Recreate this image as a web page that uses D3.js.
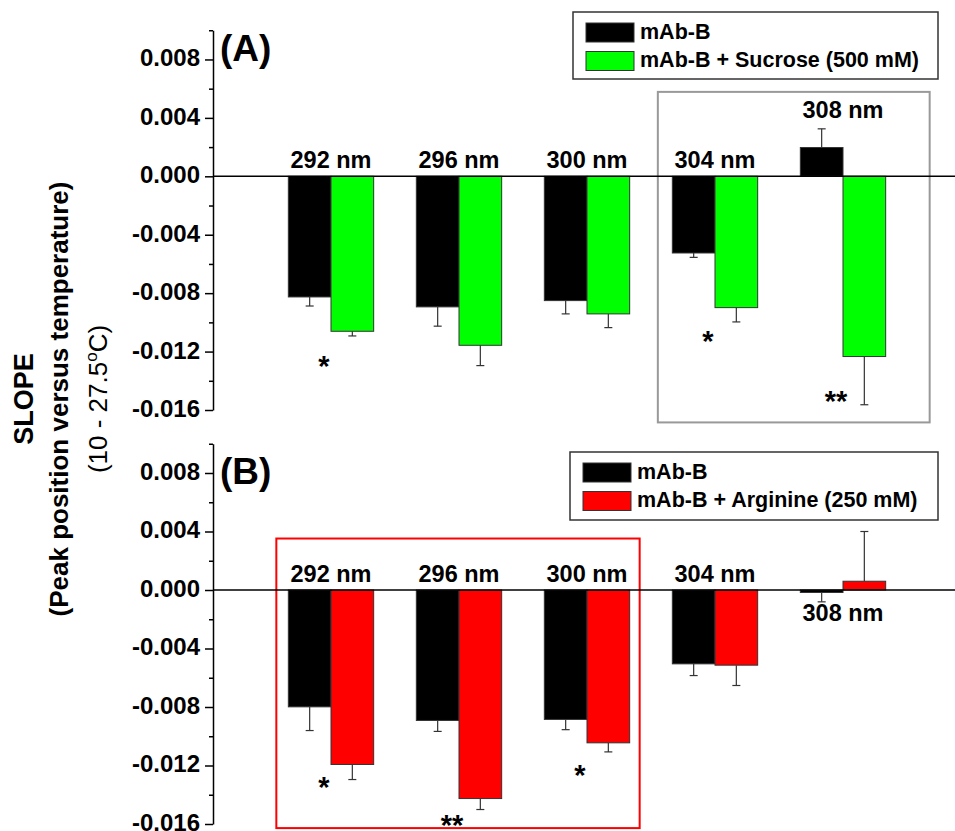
<!DOCTYPE html>
<html>
<head>
<meta charset="utf-8">
<script src="https://cdn.jsdelivr.net/npm/d3@7"></script>
<style>
  body { margin: 0; background: #fff; }
  svg text { font-family: "Liberation Sans", Arial, sans-serif; }
</style>
</head>
<body>
<div id="chart"></div>
<script>
const W = 955;
const H = 831;

const categories = ["292 nm", "296 nm", "300 nm", "304 nm", "308 nm"];
const yTicks = [-0.016, -0.012, -0.008, -0.004, 0, 0.004, 0.008];
const yMinorTicks = [-0.014, -0.01, -0.006, -0.002, 0.002, 0.006, 0.01];

// panel A: sucrose
const sucroseControl = [-0.00826, -0.00894, -0.00851, -0.00525, 0.00197];
const sucroseControlErr = [0.00062, 0.00132, 0.00091, 0.0003, 0.00128];
const sucroseValues = [-0.01061, -0.01157, -0.00942, -0.00899, -0.01234];
const sucroseErr = [0.00032, 0.00139, 0.00094, 0.00098, 0.0033];
const sucroseStars = ["*", "", "", "*", "**"];
const sucroseStarAt = [-0.01255, null, null, -0.01084, -0.01494];
const sucroseLabelSide = ["zero", "zero", "zero", "zero", "above"];
const sucroseLegend = ["mAb-B", "mAb-B + Sucrose (500 mM)"];

// panel B: arginine
const arginineControl = [-0.00799, -0.00892, -0.00885, -0.00505, -0.00017];
const arginineControlErr = [0.00162, 0.00075, 0.0007, 0.0008, 0.00064];
const arginineValues = [-0.01193, -0.01426, -0.01045, -0.00514, 0.0006];
const arginineErr = [0.00103, 0.00075, 0.00062, 0.00139, 0.0034];
const arginineStars = ["*", "**", "*", "", ""];
const arginineStarAt = [-0.01307, -0.01569, -0.01227, null, null];
const arginineLabelSide = ["zero", "zero", "zero", "zero", "below"];
const arginineLegend = ["mAb-B", "mAb-B + Arginine (250 mM)"];

const svg = d3.select("#chart").append("svg").attr("width", W).attr("height", H);

const x = d3.scaleBand().domain(categories).range([267, 907]).paddingInner(1 / 3).paddingOuter(1 / 6);
const xs = d3.scaleBand().domain(["ctrl", "treat"]).range([0, x.bandwidth()]);
const axisX = 213;

function drawPanel(p) {
  const y = d3.scaleLinear().domain([-0.016, 0.01]).range([p.bottom, p.top]);
  const g = svg.append("g");

  // highlight box
  g.append("rect")
    .attr("x", x(p.box.from) + p.box.dx0)
    .attr("y", y(p.box.yTop))
    .attr("width", x(p.box.to) + x.bandwidth() + p.box.dx1 - x(p.box.from) - p.box.dx0)
    .attr("height", y(p.box.yBottom) - y(p.box.yTop))
    .attr("fill", "none")
    .attr("stroke", p.box.color)
    .attr("stroke-width", 2);

  const rows = categories.map((c, i) => ({
    cat: c, ctrl: p.ctrl[i], ctrlErr: p.ctrlErr[i], treat: p.treat[i], treatErr: p.treatErr[i],
    star: p.stars[i], starAt: p.starAt[i], side: p.side[i]
  }));
  const bars = [];
  rows.forEach((r) => {
    bars.push({ cat: r.cat, key: "ctrl", v: r.ctrl, e: r.ctrlErr, fill: "#000" });
    bars.push({ cat: r.cat, key: "treat", v: r.treat, e: r.treatErr, fill: p.color });
  });

  // error bars (one-sided, away from zero)
  const eb = g.selectAll(".err").data(bars).enter().append("g").attr("class", "err");
  const cx = (d) => x(d.cat) + xs(d.key) + xs.bandwidth() / 2;
  const tip = (d) => (d.v >= 0 ? d.v + d.e : d.v - d.e);
  eb.append("line")
    .attr("x1", cx).attr("x2", cx)
    .attr("y1", (d) => y(d.v)).attr("y2", (d) => y(tip(d)))
    .attr("stroke", "#333").attr("stroke-width", 1.2);
  eb.append("line")
    .attr("x1", (d) => cx(d) - 4).attr("x2", (d) => cx(d) + 4)
    .attr("y1", (d) => y(tip(d))).attr("y2", (d) => y(tip(d)))
    .attr("stroke", "#333").attr("stroke-width", 1.2);

  g.selectAll(".bar").data(bars).enter().append("rect")
    .attr("class", "bar")
    .attr("x", (d) => x(d.cat) + xs(d.key))
    .attr("width", xs.bandwidth())
    .attr("y", (d) => y(Math.max(0, d.v)))
    .attr("height", (d) => Math.abs(y(d.v) - y(0)))
    .attr("fill", (d) => d.fill)
    .attr("stroke", "#333")
    .attr("stroke-width", 1);

  // zero line
  g.append("line")
    .attr("x1", axisX).attr("x2", W)
    .attr("y1", y(0)).attr("y2", y(0))
    .attr("stroke", "#000").attr("stroke-width", 1.5);

  // category labels
  g.selectAll(".cat").data(rows).enter().append("text")
    .attr("class", "cat")
    .attr("x", (d) => x(d.cat) + x.bandwidth() / 2)
    .attr("y", (d) => {
      if (d.side === "above") return y(Math.max(d.ctrl + d.ctrlErr, d.treat + d.treatErr)) - 11;
      if (d.side === "below") return y(0) + 31;
      return y(0) - 8;
    })
    .attr("text-anchor", "middle")
    .attr("font-size", 23.5)
    .attr("font-weight", "bold")
    .text((d) => d.cat);

  // significance stars
  g.selectAll(".star").data(rows.filter((d) => d.star)).enter().append("text")
    .attr("class", "star")
    .attr("x", (d) => x(d.cat) + x.bandwidth() / 2 - 7)
    .attr("y", (d) => y(d.starAt) + 16)
    .attr("text-anchor", "middle")
    .attr("font-size", 29)
    .attr("font-weight", "bold")
    .text((d) => d.star);

  // y axis
  const ax = g.append("g").attr("transform", `translate(${axisX},0)`)
    .call(d3.axisLeft(y).tickValues(yTicks).tickFormat((d) => d.toFixed(3)).tickSize(8).tickSizeOuter(0).tickPadding(5));
  ax.select(".domain").attr("stroke-width", 1.5);
  ax.selectAll(".tick line").attr("stroke-width", 1.5);
  ax.selectAll("text").attr("font-size", 24).attr("font-weight", "bold").attr("fill", "#000").attr("dy", "0.27em")
    .style("font-family", "'Liberation Sans', Arial, sans-serif");
  const mx = g.append("g").attr("transform", `translate(${axisX},0)`)
    .call(d3.axisLeft(y).tickValues(yMinorTicks).tickFormat("").tickSize(4).tickSizeOuter(0));
  mx.select(".domain").remove();
  mx.selectAll(".tick line").attr("stroke-width", 1.5);

  // panel letter
  g.append("text")
    .attr("x", 220).attr("y", p.letterY)
    .attr("font-size", 37).attr("font-weight", "bold")
    .text(p.letter);

  // legend
  const L = p.legend;
  const lg = g.append("g").attr("transform", `translate(${L.x},${L.y})`);
  lg.append("rect").attr("width", L.w).attr("height", L.h)
    .attr("fill", "#fff").attr("stroke", "#333").attr("stroke-width", 1.5);
  const items = [{ label: p.legendLabels[0], fill: "#000" }, { label: p.legendLabels[1], fill: p.color }];
  items.forEach((it, i) => {
    lg.append("rect").attr("x", 13).attr("y", 11 + i * 28.5).attr("width", 48).attr("height", 19)
      .attr("fill", it.fill).attr("stroke", "#333").attr("stroke-width", 1);
    lg.append("text").attr("x", 67).attr("y", 27 + i * 28).attr("font-size", 21.5).attr("font-weight", "bold")
      .text(it.label);
  });
}

drawPanel({
  top: 30.25, bottom: 410,
  ctrl: sucroseControl, ctrlErr: sucroseControlErr, treat: sucroseValues, treatErr: sucroseErr,
  stars: sucroseStars, starAt: sucroseStarAt, side: sucroseLabelSide,
  color: "#00ff00", letter: "(A)", letterY: 61,
  legendLabels: sucroseLegend,
  legend: { x: 573, y: 12, w: 365, h: 67 },
  box: { from: "304 nm", to: "308 nm", dx0: -14.5, dx1: 44, yTop: 0.00578, yBottom: -0.01685, color: "#999" }
});

drawPanel({
  top: 443.75, bottom: 824,
  ctrl: arginineControl, ctrlErr: arginineControlErr, treat: arginineValues, treatErr: arginineErr,
  stars: arginineStars, starAt: arginineStarAt, side: arginineLabelSide,
  color: "#ff0000", letter: "(B)", letterY: 484,
  legendLabels: arginineLegend,
  legend: { x: 570, y: 452, w: 368, h: 68 },
  box: { from: "292 nm", to: "300 nm", dx0: -12, dx1: 10, yTop: 0.00352, yBottom: -0.01628, color: "#ff0000" }
});

// y axis title
const title = svg.append("g").attr("transform", "translate(0,399)");
title.append("text").attr("transform", "translate(33,0) rotate(-90)")
  .attr("text-anchor", "middle").attr("font-size", 27).attr("font-weight", "bold").text("SLOPE");
title.append("text").attr("transform", "translate(68,0) rotate(-90)")
  .attr("text-anchor", "middle").attr("font-size", 26).attr("font-weight", "bold")
  .text("(Peak position versus temperature)");
const t3 = title.append("text").attr("transform", "translate(107,0) rotate(-90)")
  .attr("text-anchor", "middle").attr("font-size", 26);
t3.append("tspan").text("(10 - 27.5");
t3.append("tspan").attr("font-size", 17).attr("dy", -10).text("o");
t3.append("tspan").attr("dy", 10).text("C)");
</script>
</body>
</html>
